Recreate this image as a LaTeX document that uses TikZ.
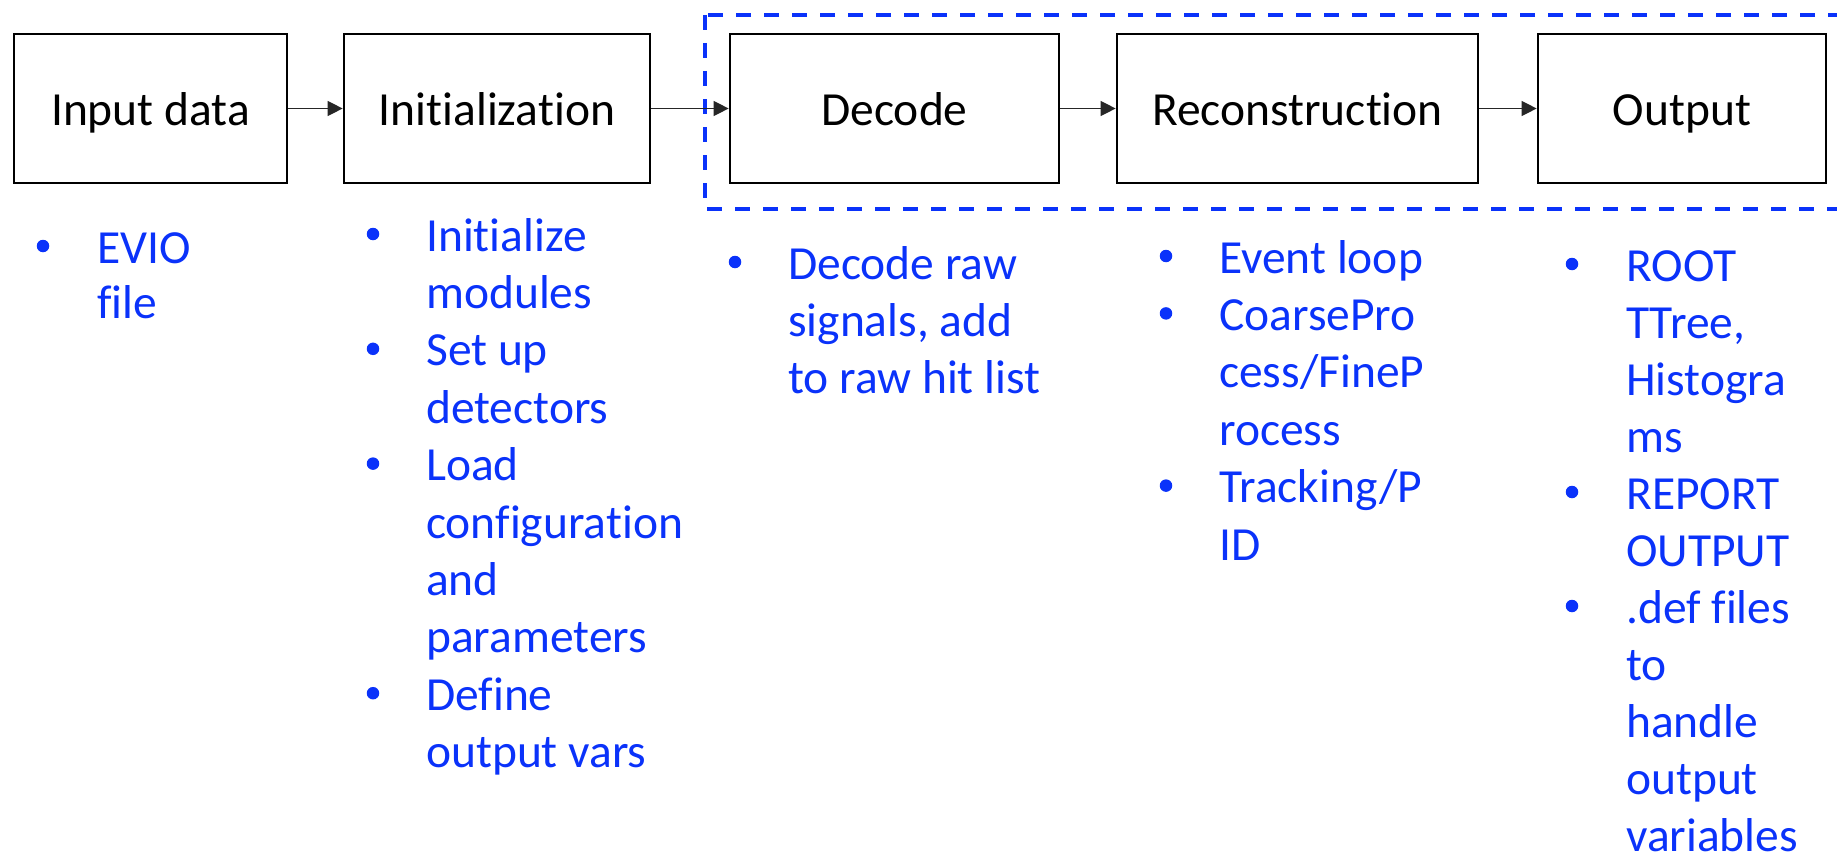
\documentclass[tikz,border=0pt]{standalone}
\usepackage{fontspec}
\setmainfont{Carlito}[Ligatures={NoCommon,NoContextual}]
\usetikzlibrary{arrows.meta}
\definecolor{listblue}{RGB}{10,50,250}
\begin{document}
\begin{tikzpicture}[x=1pt,y=-1pt,
  font=\fontsize{47.5}{57}\selectfont,
  stage/.style={draw=black, line width=2.7pt, rectangle, inner sep=0pt,
    minimum height=149pt, text height=40pt, text depth=7pt},
  flow/.style={draw=black!85, line width=1.3pt, -{Triangle[length=15pt,width=15pt]}},
  item/.style={text=listblue, inner sep=0pt, anchor=base west},
  dot/.style={circle, fill=listblue, inner sep=0pt, minimum size=12.5pt},
  group/.style={draw=listblue, line width=3.5pt, dash pattern=on 15pt off 13pt}]
\useasboundingbox (0,0) rectangle (1837,859);

% dashed frame around the processing stages
\draw[group] (705,15) rectangle (1850,209);

% pipeline stages
\node[stage, minimum width=273pt] (input)  at (150.5,108.5) {Input data};
\node[stage, minimum width=306pt] (init)   at (497,108.5)   {Initialization};
\node[stage, minimum width=329pt] (decode) at (894.5,108.5) {Decode};
\node[stage, minimum width=361pt] (recon)  at (1297.5,108.5) {Reconstruction};
\node[stage, minimum width=288pt] (output) at (1682,108.5)  {Output};

\draw[flow] (input) -- (init);
\draw[flow] (init) -- (decode);
\draw[flow] (decode) -- (recon);
\draw[flow] (recon) -- (output);

% input data notes
\foreach \t [count=\i from 0] in {EVIO,file}
  \node[item] (in-\i) at (97,263+55*\i) {\t};
\node[dot] (in-b0) at (43,246) {};

% initialization notes
\foreach \t [count=\i from 0] in {Initialize,modules,{Set up},detectors,Load,configuration,and,parameters,Define,{output vars}}
  \node[item] (ini-\i) at (426,251+57.4*\i) {\t};
\foreach \k in {0,2,4,8}
  \node[dot] (ini-b\k) at (373,234+57.4*\k) {};

% decode notes
\foreach \t [count=\i from 0] in {{Decode raw},{signals, add},{to raw hit list}}
  \node[item] (dec-\i) at (788,279+57*\i) {\t};
\node[dot] (dec-b0) at (735,262) {};

% reconstruction notes
\foreach \t [count=\i from 0] in {{Event loop},CoarsePro,cess/FineP,rocess,Tracking/P,ID}
  \node[item] (rec-\i) at (1219,273+57.4*\i) {\t};
\foreach \k in {0,1,4}
  \node[dot] (rec-b\k) at (1166,256+57.4*\k) {};

% output notes
\foreach \t [count=\i from 0] in {ROOT,{TTree,},Histogra,ms,REPORT,OUTPUT,{.def files},to,handle,output,variables}
  \node[item] (out-\i) at (1626,281+57*\i) {\t};
\foreach \k in {0,4,6}
  \node[dot] (out-b\k) at (1572,264+57*\k) {};
\end{tikzpicture}
\end{document}
